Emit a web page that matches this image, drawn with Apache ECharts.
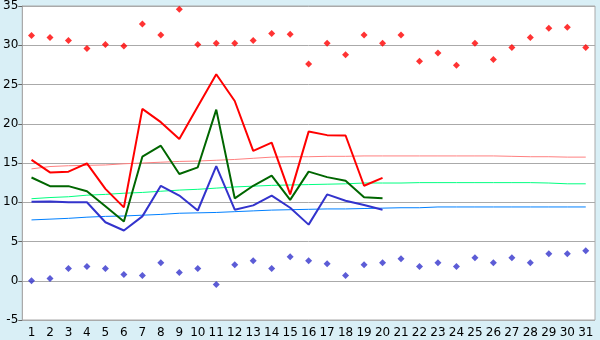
<!DOCTYPE html>
<html>
<head>
<meta charset="utf-8">
<script src="https://cdn.jsdelivr.net/npm/echarts@6/dist/echarts.min.js"></script>
<style>
html,body{margin:0;padding:0;background:#d9eff6;}
#c{width:600px;height:340px;}
</style>
</head>
<body>
<div id="c"></div>
<script>
var days = [];
for (var i = 1; i <= 31; i++) days.push(String(i));

var redLine = [15.4,13.8,13.9,14.95,11.7,9.35,21.9,20.2,18.05,22.2,26.3,22.9,16.55,17.6,11.0,19.0,18.55,18.5,12.1,13.1];
var greenLine = [13.15,12.05,12.05,11.4,9.5,7.55,15.8,17.2,13.6,14.45,21.8,10.5,12.1,13.4,10.3,13.9,13.2,12.75,10.65,10.5];
var blueLine = [10.05,10.1,10.0,10.0,7.45,6.4,8.2,12.1,10.85,8.95,14.6,9.05,9.6,10.85,9.3,7.15,11.0,10.2,9.65,9.05];

var redNormal = [14.25,14.55,14.65,14.7,14.75,14.9,15.0,15.1,15.2,15.25,15.35,15.45,15.6,15.75,15.8,15.8,15.85,15.85,15.9,15.9,15.9,15.9,15.9,15.9,15.9,15.9,15.85,15.8,15.8,15.75,15.75];
var greenNormal = [10.45,10.6,10.7,10.9,11.0,11.15,11.25,11.4,11.55,11.65,11.8,11.95,12.05,12.15,12.2,12.25,12.3,12.35,12.45,12.45,12.45,12.5,12.5,12.5,12.5,12.5,12.5,12.5,12.45,12.35,12.35];
var blueNormal = [7.75,7.85,7.95,8.1,8.2,8.25,8.35,8.45,8.6,8.65,8.7,8.8,8.9,9.0,9.05,9.1,9.15,9.15,9.2,9.25,9.3,9.3,9.4,9.4,9.4,9.4,9.4,9.4,9.4,9.4,9.4];

var recordMax = [31.25,31.0,30.6,29.6,30.1,29.9,32.7,31.3,34.6,30.1,30.25,30.25,30.6,31.5,31.4,27.6,30.25,28.8,31.3,30.25,31.3,27.95,29.0,27.45,30.25,28.2,29.7,31.0,32.15,32.3,29.7];
var recordMin = [0.0,0.28,1.55,1.8,1.55,0.79,0.66,2.3,1.04,1.55,-0.48,2.05,2.56,1.55,3.07,2.56,2.18,0.66,2.05,2.3,2.8,1.8,2.3,1.8,2.94,2.3,2.94,2.3,3.45,3.45,3.83];

var yMin = -5, yMax = 35, yStep = 5;

var chart = echarts.init(document.getElementById('c'));
var txt = {color:'#000', fontFamily:'DejaVu Sans', fontSize:12};
function line(data, color, width, z) {
  return {type:'line', data:data, symbol:'none', z:z, animation:false,
          lineStyle:{color:color, width:width}, itemStyle:{color:color}};
}
function pts(data, color) {
  return {type:'scatter', data:data, symbol:'diamond', symbolSize:7, z:10, animation:false,
          itemStyle:{color:color}};
}
chart.setOption({
  backgroundColor:'#d9eff6',
  animation:false,
  grid:{left:20, right:5, top:5, bottom:20, show:true, backgroundColor:'#ffffff', borderColor:'#aaaaaa', borderWidth:1},
  xAxis:{type:'category', data:days, boundaryGap:true,
    axisLine:{lineStyle:{color:'#aaaaaa'}},
    axisTick:{alignWithLabel:true, length:5, lineStyle:{color:'#666'}},
    axisLabel:Object.assign({margin:7, interval:0}, txt),
    splitLine:{show:false}},
  yAxis:{type:'value', min:yMin, max:yMax, interval:yStep,
    axisLine:{show:true, lineStyle:{color:'#aaaaaa'}},
    axisTick:{show:true, length:4, lineStyle:{color:'#666'}},
    axisLabel:Object.assign({margin:4}, txt),
    splitLine:{lineStyle:{color:'#aaaaaa', width:1}}},
  series:[
    line(redNormal, '#ff8080', 1, 2),
    line(greenNormal, '#00ff80', 1, 2),
    line(blueNormal, '#0080ff', 1, 2),
    line(blueLine, '#3333cc', 2, 3),
    line(greenLine, '#006600', 2, 4),
    line(redLine, '#ff0000', 2, 5),
    pts(recordMax, '#ff0000'),
    pts(recordMin, '#3333cc')
  ]
});
</script>
</body>
</html>
